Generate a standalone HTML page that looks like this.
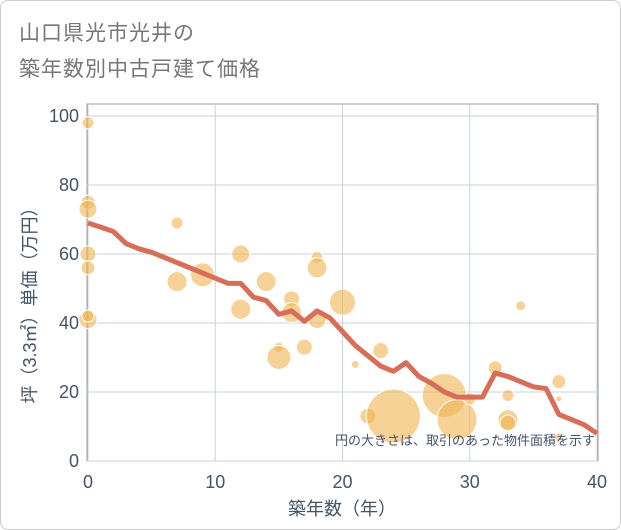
<!DOCTYPE html>
<html><head><meta charset="utf-8"><style>
body{margin:0;background:#fff;font-family:"Liberation Sans","Noto Sans CJK JP",sans-serif;}
#wrap{position:relative;width:619px;height:528px;border:1px solid #ccc;border-radius:8px;overflow:hidden;}
.t{position:absolute;left:18px;color:#777;font-size:21px;letter-spacing:1px;}
</style></head><body>
<div id="wrap">
<div class="t" style="top:16px">山口県光市光井の</div>
<div class="t" style="top:52px">築年数別中古戸建て価格</div>
<svg id="c" width="621" height="530" style="position:absolute;left:0;top:0"></svg>
</div>
<script>
const lineX=[0,1,2,3,4,5,6,7,8,9,10,11,12,13,14,15,16,17,18,19,20,21,22,23,24,25,26,27,28,29,30,31,32,33,34,35,36,37,38,39,40];
const lineY=[69,67.8,66.5,63,61.5,60.5,59,57.5,56,54.5,53,51.5,51.5,47.5,46.5,42.5,43.5,40.5,43.5,41.5,37.5,33.5,30.5,27.5,26,28.5,24.5,22.5,20,18.5,18.5,18.5,25.5,24.5,23,21.5,21,13.5,12,10.5,8];
const bubX=[0,0,0,0,0,0,0,7,7,9,12,12,14,16,16,15,15,18,18,18,17,20,21,22,23,24,28,29,30,32,33,33,33,34,37,37,37];
const bubY=[98,75,73,60,56,41,42,69,52,54,60,44,52,47,43,33,30,59,56,41,33,46,28,13,32,13,19,12,18,27,19,12,11,45,23,18,7];
const bubR=[6,7,9,8,7,9,6,6,10,12,9,10,10,8,10,5,12,6,10,9,8,13,4,8,8,27,22,20,6,7,6,10,8,5,7,3,4];
const xTicks=[0,10,20,30,40];
const yTicks=[0,20,40,60,80,100];
const ns="http://www.w3.org/2000/svg",svg=document.getElementById('c');
const X=v=>87+v*12.725, Y=v=>460-v*3.45;
function mk(t,a){const e=document.createElementNS(ns,t);for(const k in a)e.setAttribute(k,a[k]);svg.appendChild(e);return e;}
let f=mk('rect',{x:86,y:103,width:511,height:357,fill:'none',stroke:'#999','stroke-width':1});


xTicks.forEach(v=>{let g=mk('line',{x1:X(v),x2:X(v),y1:103,y2:460,stroke:'#c8d3e0'});


let t=mk('text',{x:X(v),y:487,'text-anchor':'middle','font-size':18,fill:'#44546a'});t.textContent=v;

});
yTicks.forEach(v=>{let g=mk('line',{x1:86,x2:597,y1:Y(v),y2:Y(v),stroke:'#c8d3e0'});


let t=mk('text',{x:78,y:Y(v)+6,'text-anchor':'end','font-size':18,fill:'#44546a'});t.textContent=v;

});
bubX.forEach((v,i)=>{let c=mk('circle',{cx:X(v),cy:Y(bubY[i]),r:bubR[i],fill:'rgba(240,180,80,0.6)',stroke:'#fff','stroke-width':1});

});
let p=mk('polyline',{points:lineX.map((v,i)=>X(v)+','+Y(lineY[i])).join(' '),fill:'none',stroke:'#d86e58','stroke-width':5,'stroke-linejoin':'round'});


let n=mk('text',{x:594,y:444,'text-anchor':'end','font-size':13,fill:'#44546a'});n.textContent='円の大きさは、取引のあった物件面積を示す';


let xl=mk('text',{x:341,y:514,'text-anchor':'middle','font-size':18,fill:'#44546a'});xl.textContent='築年数（年）';


let yl=mk('text',{x:0,y:0,'text-anchor':'middle','font-size':18,fill:'#44546a',transform:'translate(35,300) rotate(-90)'});yl.textContent='坪（3.3㎡）単価（万円）';


</script></body></html>
